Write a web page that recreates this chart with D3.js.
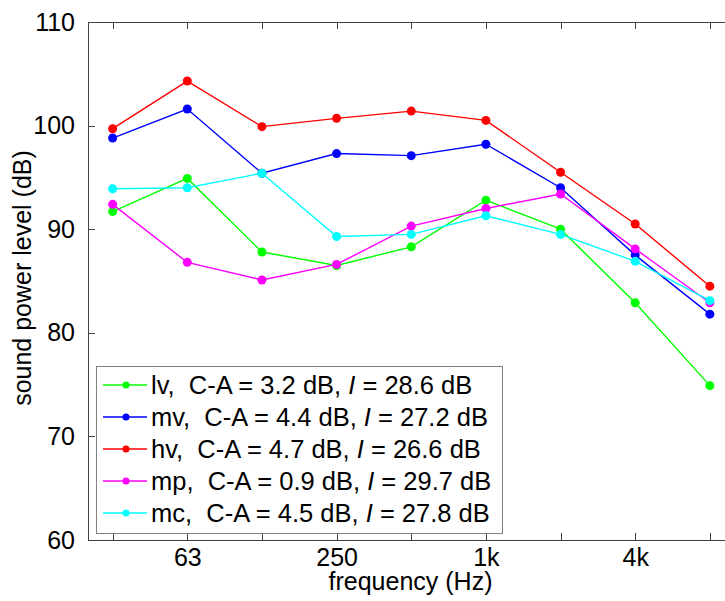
<!DOCTYPE html>
<html>
<head>
<meta charset="utf-8">
<script src="https://cdn.jsdelivr.net/npm/d3@7"></script>
<style>
  html, body { margin: 0; padding: 0; background: #fff; }
  svg { display: block; font-family: Arial, "Liberation Sans", sans-serif; }
  text { white-space: pre; }
</style>
</head>
<body>
<svg id="chart" width="725" height="601"></svg>
<script>
// ---- data ----
const bands = ["31.5", "63", "125", "250", "500", "1k", "2k", "4k", "8k"];
const xTickLabels = ["", "63", "", "250", "", "1k", "", "4k", ""];
const yTicks = [60, 70, 80, 90, 100, 110];

const seriesNames = ["lv", "mv", "hv", "mp", "mc"];
const seriesColors = ["#00ff00", "#0000ff", "#ff0000", "#ff00ff", "#00ffff"];
const seriesCA = ["3.2", "4.4", "4.7", "0.9", "4.5"];
const seriesI = ["28.6", "27.2", "26.6", "29.7", "27.8"];

const lv = [91.7, 94.9, 87.8, 86.5, 88.3, 92.8, 90.0, 82.9, 74.9];
const mv = [98.8, 101.6, 95.4, 97.3, 97.1, 98.2, 94.0, 87.5, 81.8];
const hv = [99.7, 104.3, 99.9, 100.7, 101.4, 100.5, 95.5, 90.5, 84.5];
const mp = [92.4, 86.8, 85.1, 86.6, 90.3, 92.0, 93.4, 88.1, 82.9];
const mc = [93.9, 94.0, 95.4, 89.3, 89.5, 91.3, 89.5, 86.9, 83.1];
const seriesValues = [lv, mv, hv, mp, mc];

(function () {
// ---- layout ----
const svg = d3.select("#chart");
const mLeft = 88, mRight = 733, mTop = 22, mBottom = 540;
const axisColor = "#404040";

const x = d3.scaleLinear().domain([-0.33, 8.31]).range([mLeft, mRight]);
const y = d3.scaleLinear().domain([60, 110]).range([mBottom, mTop]);

// axis box
const g = svg.append("g");
g.append("line").attr("x1", mLeft).attr("x2", mRight).attr("y1", mTop).attr("y2", mTop)
  .attr("stroke", axisColor).attr("stroke-width", 1).attr("shape-rendering", "crispEdges");
g.append("line").attr("x1", mLeft).attr("x2", mRight).attr("y1", mBottom).attr("y2", mBottom)
  .attr("stroke", axisColor).attr("stroke-width", 1).attr("shape-rendering", "crispEdges");
g.append("line").attr("x1", mLeft).attr("x2", mLeft).attr("y1", mTop).attr("y2", mBottom)
  .attr("stroke", axisColor).attr("stroke-width", 1).attr("shape-rendering", "crispEdges");

// bottom axis via d3
const xAxis = d3.axisBottom(x)
  .tickValues(d3.range(bands.length))
  .tickSizeInner(-7).tickSizeOuter(0).tickPadding(8)
  .tickFormat((d) => xTickLabels[d]);
const gx = svg.append("g").attr("transform", `translate(0,${mBottom})`).call(xAxis);
gx.select(".domain").remove();
gx.selectAll(".tick line").attr("stroke", axisColor).attr("shape-rendering", "crispEdges");
gx.selectAll(".tick text").attr("font-size", 25).attr("fill", "#000")
  .attr("font-family", "Arial, 'Liberation Sans', sans-serif").attr("dy", "0.71em");

// top ticks
const xTop = d3.axisTop(x).tickValues(d3.range(bands.length))
  .tickSizeInner(-7).tickSizeOuter(0).tickFormat("");
const gxt = svg.append("g").attr("transform", `translate(0,${mTop})`).call(xTop);
gxt.select(".domain").remove();
gxt.selectAll(".tick line").attr("stroke", axisColor).attr("shape-rendering", "crispEdges");

// left axis
const yAxis = d3.axisLeft(y).tickValues(yTicks)
  .tickSizeInner(-7).tickSizeOuter(0).tickPadding(13)
  .tickFormat(d3.format("d"));
const gy = svg.append("g").attr("transform", `translate(${mLeft},0)`).call(yAxis);
gy.select(".domain").remove();
gy.selectAll(".tick line").attr("stroke", axisColor).attr("shape-rendering", "crispEdges");
gy.selectAll(".tick text").attr("font-size", 25).attr("fill", "#000")
  .attr("font-family", "Arial, 'Liberation Sans', sans-serif");

// axis labels
svg.append("text").attr("x", (mLeft + mRight) / 2).attr("y", 590)
  .attr("text-anchor", "middle").attr("font-size", 25).attr("fill", "#000")
  .text("frequency (Hz)");
svg.append("text").attr("transform", `translate(31,${(mTop + mBottom) / 2 - 3}) rotate(-90)`)
  .attr("text-anchor", "middle").attr("font-size", 25).attr("fill", "#000")
  .text("sound power level (dB)");

// series
const line = d3.line().x((d, i) => x(i)).y((d) => y(d));
seriesValues.forEach((vals, k) => {
  const sg = svg.append("g");
  sg.append("path").datum(vals).attr("d", line)
    .attr("fill", "none").attr("stroke", seriesColors[k]).attr("stroke-width", 1.4);
  sg.selectAll("circle").data(vals).join("circle")
    .attr("cx", (d, i) => x(i)).attr("cy", (d) => y(d)).attr("r", 4.5)
    .attr("fill", seriesColors[k]);
});

// legend
const lgX = 96, lgY = 366, lgW = 406, lgH = 167, rowH = 32;
const lg = svg.append("g");
lg.append("rect").attr("x", lgX).attr("y", lgY).attr("width", lgW).attr("height", lgH)
  .attr("fill", "#fff").attr("stroke", "#808080").attr("stroke-width", 1)
  .attr("shape-rendering", "crispEdges");
seriesNames.forEach((name, k) => {
  const cy = lgY + 19 + k * rowH;
  lg.append("line").attr("x1", lgX + 7).attr("x2", lgX + 51).attr("y1", cy).attr("y2", cy)
    .attr("stroke", seriesColors[k]).attr("stroke-width", 1.4);
  lg.append("circle").attr("cx", lgX + 30).attr("cy", cy).attr("r", 3.5).attr("fill", seriesColors[k]);
  const t = lg.append("text").attr("x", lgX + 55).attr("y", cy + 9)
    .attr("font-size", 25.5).attr("fill", "#000");
  t.append("tspan").text(`${name},  C-A = ${seriesCA[k]} dB, `);
  t.append("tspan").attr("font-style", "italic").text("I");
  t.append("tspan").text(` = ${seriesI[k]} dB`);
});
})();
</script>
</body>
</html>
